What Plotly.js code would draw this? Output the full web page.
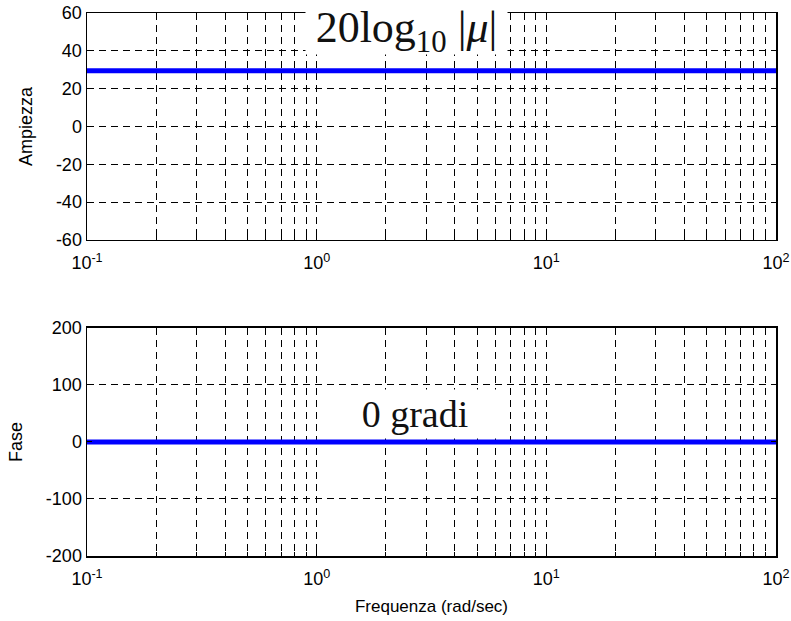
<!DOCTYPE html>
<html>
<head>
<meta charset="utf-8">
<script src="https://cdn.plot.ly/plotly-3.0.1.min.js"></script>
<style>
  html, body { margin: 0; padding: 0; background: #fff; }
  #chart { width: 791px; height: 621px; }
</style>
</head>
<body>
<div id="chart"></div>
<script>
// Bode diagram of a pure gain: constant magnitude and zero phase
const freq = [0.1, 100];                 // rad/sec
const magnitude = [29.5, 29.5];          // dB
const phase = [0, 0];                    // degrees

const decadeTicks = [0.1, 1, 10, 100];
const decadeLabels = ['10<sup>-1</sup>', '10<sup>0</sup>', '10<sup>1</sup>', '10<sup>2</sup>'];
const minorTicks = [0.2, 0.3, 0.4, 0.5, 0.6, 0.7, 0.8, 0.9,
                    2, 3, 4, 5, 6, 7, 8, 9,
                    20, 30, 40, 50, 60, 70, 80, 90];
const magTicks = [-60, -40, -20, 0, 20, 40, 60];
const magLabels = ['-60', '-40', '-20', '0', '20', '40', '60'];
const phaseTicks = [-200, -100, 0, 100, 200];
const phaseLabels = ['-200', '-100', '0', '100', '200'];

const gridDash = '7px,5px';
const sansFamily = 'Liberation Sans, Arial, sans-serif';
const serifFamily = 'Liberation Serif, Times New Roman, serif';

function labelFont(size) {
  return { family: sansFamily, size: size, color: '#000' };
}

function xAxis(anchor, withTitle) {
  const ax = {
    type: 'log',
    range: [-1, 2],
    anchor: anchor,
    tickmode: 'array',
    tickvals: decadeTicks,
    ticktext: decadeLabels,
    tickfont: labelFont(18),
    ticklabelstandoff: 6,
    ticks: 'inside',
    ticklen: 5,
    tickcolor: '#000',
    showgrid: true,
    gridcolor: '#000',
    gridwidth: 1,
    griddash: gridDash,
    minor: {
      tickmode: 'array',
      tickvals: minorTicks,
      ticks: 'inside',
      ticklen: 4,
      tickcolor: '#000',
      showgrid: true,
      gridcolor: '#000',
      gridwidth: 1,
      griddash: gridDash
    },
    showline: true,
    linecolor: '#000',
    linewidth: 1.5,
    mirror: 'ticks',
    zeroline: false,
    fixedrange: true
  };
  if (withTitle) {
    ax.title = { text: 'Frequenza (rad/sec)', font: labelFont(17), standoff: 12 };
  }
  return ax;
}

function yAxis(anchor, domain, range, vals, labels, title) {
  return {
    domain: domain,
    anchor: anchor,
    range: range,
    tickmode: 'array',
    tickvals: vals,
    ticktext: labels,
    tickfont: labelFont(18),
    ticks: 'inside',
    ticklen: 5,
    tickcolor: '#000',
    showgrid: true,
    gridcolor: '#000',
    gridwidth: 1,
    griddash: gridDash,
    showline: true,
    linecolor: '#000',
    linewidth: 1.5,
    mirror: 'ticks',
    zeroline: false,
    fixedrange: true,
    title: { text: title, font: labelFont(18), standoff: 18 }
  };
}

const traces = [
  { x: freq, y: magnitude, xaxis: 'x', yaxis: 'y', mode: 'lines',
    line: { color: '#0000ff', width: 5 }, hoverinfo: 'skip' },
  { x: freq, y: phase, xaxis: 'x2', yaxis: 'y2', mode: 'lines',
    line: { color: '#0000ff', width: 5 }, hoverinfo: 'skip' }
];

const layout = {
  width: 791,
  height: 621,
  margin: { l: 87, r: 15, t: 13, b: 65 },
  paper_bgcolor: '#fff',
  plot_bgcolor: '#fff',
  showlegend: false,
  xaxis: xAxis('y', false),
  yaxis: yAxis('x', [0.582, 1], [-60, 60], magTicks, magLabels, 'Ampiezza'),
  xaxis2: xAxis('y2', true),
  yaxis2: yAxis('x2', [0, 0.42], [-200, 200], phaseTicks, phaseLabels, 'Fase'),
  annotations: [
    {
      xref: 'paper', yref: 'paper',
      x: 0.464, y: 0.967,
      xanchor: 'center', yanchor: 'middle',
      width: 199, height: 44,
      bgcolor: '#fff',
      showarrow: false,
      text: '20log<sub>10</sub> |<i>μ</i>|',
      font: { family: serifFamily, size: 44, color: '#111' }
    },
    {
      xref: 'paper', yref: 'paper',
      x: 0.476, y: 0.262,
      xanchor: 'center', yanchor: 'middle',
      width: 160, height: 46,
      bgcolor: '#fff',
      showarrow: false,
      text: '0 gradi',
      font: { family: serifFamily, size: 38, color: '#111' }
    }
  ]
};

Plotly.newPlot('chart', traces, layout, { staticPlot: true, displayModeBar: false });
</script>
</body>
</html>
